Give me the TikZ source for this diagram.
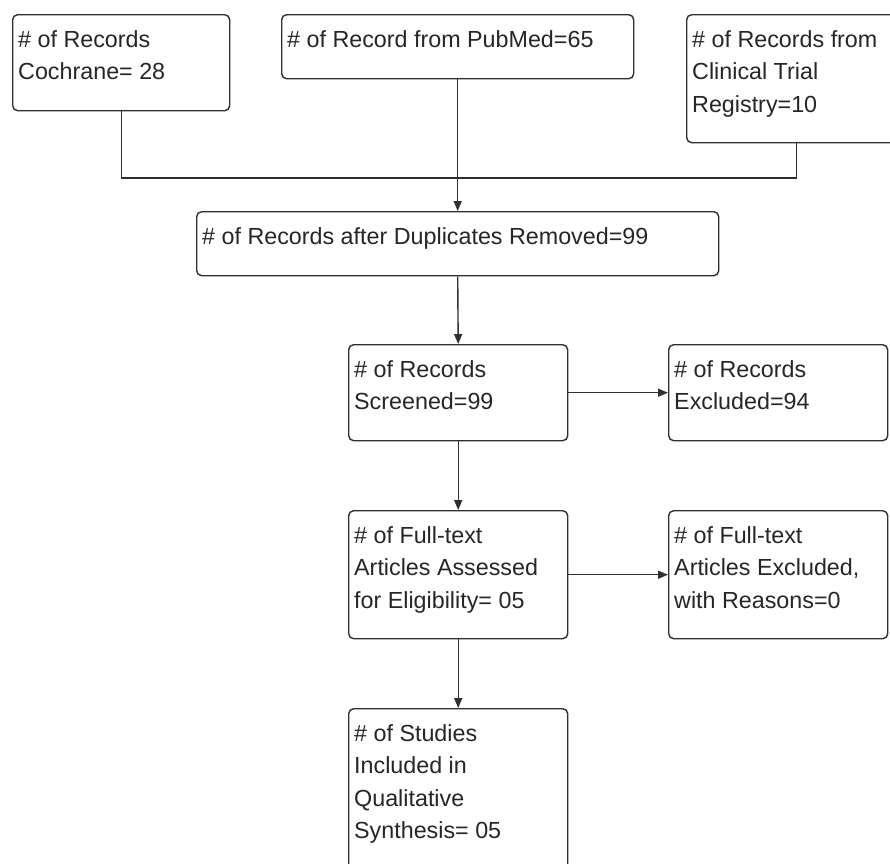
\documentclass[tikz,border=0pt]{standalone}
\usepackage{fontspec}
\setmainfont{Liberation Sans}
\usetikzlibrary{arrows.meta}
\definecolor{linegray}{HTML}{303030}
\definecolor{textgray}{HTML}{262626}
\begin{document}
\begin{tikzpicture}[x=1pt,y=-1pt,
  box/.style={draw=linegray, line width=1.4pt, rounded corners=5pt, rectangle,
    inner sep=0pt, anchor=north west, fill=white},
  boxtext/.style={anchor=north west, inner sep=0pt, align=left, text=textgray,
    font=\fontsize{23.3}{32.5}\selectfont},
  conn/.style={draw=linegray, line width=1.4pt},
  arr/.style={conn, -{Triangle[length=10pt,width=8pt]}}
]
\clip (0,0) rectangle (890,863);
\fill[white] (0,0) rectangle (890,863);

% boxes
\node[box, minimum width=217pt, minimum height=96pt]  (b1) at (12,14)  {};
\node[box, minimum width=352pt, minimum height=64pt]  (b2) at (281,14) {};
\node[box, minimum width=220pt, minimum height=128pt] (b3) at (686,14) {};
\node[box, minimum width=522pt, minimum height=64pt]  (b4) at (196,211) {};
\node[box, minimum width=219pt, minimum height=96pt]  (b5) at (348,344) {};
\node[box, minimum width=219pt, minimum height=96pt]  (b6) at (668,344) {};
\node[box, minimum width=219pt, minimum height=128pt] (b7) at (348,510) {};
\node[box, minimum width=219pt, minimum height=128pt] (b8) at (668,510) {};
\node[box, minimum width=219pt, minimum height=180pt] (b9) at (348,708) {};

% texts
\newcommand{\topstrut}{\rule{0pt}{20pt}}
\node[boxtext] (t1) at ([xshift=6pt,yshift=-13pt]b1.north west) {\topstrut\# of Records\\Cochrane= 28};
\node[boxtext] (t2) at ([xshift=6pt,yshift=-13pt]b2.north west) {\topstrut\# of Record from PubMed=65};
\node[boxtext] (t3) at ([xshift=6pt,yshift=-13pt]b3.north west) {\topstrut\# of Records from\\Clinical Trial\\Registry=10};
\node[boxtext] (t4) at ([xshift=6pt,yshift=-13pt]b4.north west) {\topstrut\# of Records after Duplicates Removed=99};
\node[boxtext] (t5) at ([xshift=6pt,yshift=-13pt]b5.north west) {\topstrut\# of Records\\Screened=99};
\node[boxtext] (t6) at ([xshift=6pt,yshift=-13pt]b6.north west) {\topstrut\# of Records\\Excluded=94};
\node[boxtext] (t7) at ([xshift=6pt,yshift=-13pt]b7.north west) {\topstrut\# of Full-text\\Articles Assessed\\for Eligibility= 05};
\node[boxtext] (t8) at ([xshift=6pt,yshift=-13pt]b8.north west) {\topstrut\# of Full-text\\Articles Excluded,\\with Reasons=0};
\node[boxtext] (t9) at ([xshift=6pt,yshift=-13pt]b9.north west) {\topstrut\# of Studies\\Included in\\Qualitative\\Synthesis= 05};

% connectors
\coordinate (jn) at (b2.south |- 0,178);
\draw[conn] (b1.south) |- (jn) -| (b3.south);
\draw[arr] (b2.south) -- (b4.north);
\draw[arr] (b4.south) -- (b5.north);
\draw[arr] (b5.east) -- (b6.west);
\draw[arr] (b5.south) -- (b7.north);
\draw[arr] (b7.east) -- (b8.west);
\draw[arr] (b7.south) -- (b9.north);
\end{tikzpicture}
\end{document}
